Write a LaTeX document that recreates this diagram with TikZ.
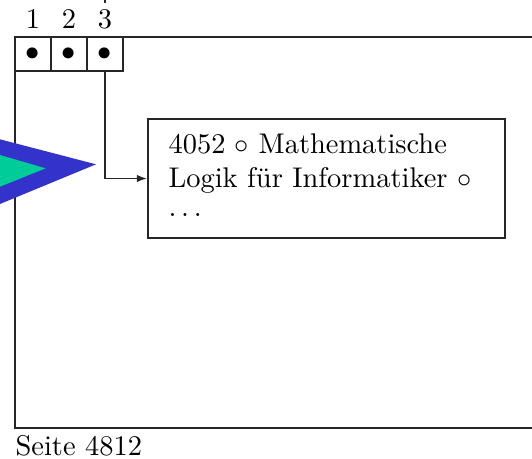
\documentclass[tikz,border=0pt]{standalone}
\usepackage{fontspec}
\usetikzlibrary{arrows.meta}
\def\pxu{0.3514pt}
\definecolor{arrowblue}{RGB}{51,51,204}
\definecolor{arrowgreen}{RGB}{0,204,153}
\tikzset{
  frame/.style={draw=black!85, line width=0.6pt},
  cell/.style={draw=black!85, line width=0.6pt, minimum width={36*\pxu}, minimum height={34*\pxu}, inner sep=0pt},
  idx/.style={anchor=base, inner sep=0pt},
  txt/.style={anchor=base west, inner sep=0pt},
  link/.style={draw=black!85, line width=0.6pt, -{Latex[length=3.6pt,width=2.6pt]}},
}
\begin{document}
\begin{tikzpicture}[x=\pxu, y=-\pxu]
\useasboundingbox (0,0) rectangle (532,458);
% page frame (cut off at the right)
\draw[frame] (15,37) rectangle (600,428);
% cells
\node[cell] (c1) at (33,54) {$\bullet$};
\node[cell] (c2) at (69,54) {$\bullet$};
\node[cell] (c3) at (105,54) {$\bullet$};
\node[idx] (l1) at (33,28) {1};
\node[idx] (l2) at (69,28) {2};
\node[idx] (l3) at (105,28) {3};
% small stub above label 3
\coordinate (stubtop) at (105,-2);
\coordinate (stubend) at (105,3);
\draw[line width=0.6pt, black!85] (stubtop) -- (stubend);
% text box
\node[frame, minimum width={357*\pxu}, minimum height={119*\pxu}, inner sep=0pt] (box) at (326.5,178.5) {};
\node[txt] (t1) at (168,153) {4052 $\circ$ Mathematische};
\node[txt] (t2) at (168,187) {Logik für Informatiker $\circ$};
\node[txt] (t3) at (168,216) {$\ldots$};
\draw[link] (c3.south) |- (box.west);
% page label
\node[txt] (seite) at (15,455) {Seite 4812};
% big arrow head
\fill[arrowblue] (-10,136.7) -- (96,164.3) -- (-10,208.1) -- cycle;
\fill[arrowgreen] (-10,152.1) -- (45.7,168.3) -- (-10,190.7) -- cycle;
\end{tikzpicture}
\end{document}
